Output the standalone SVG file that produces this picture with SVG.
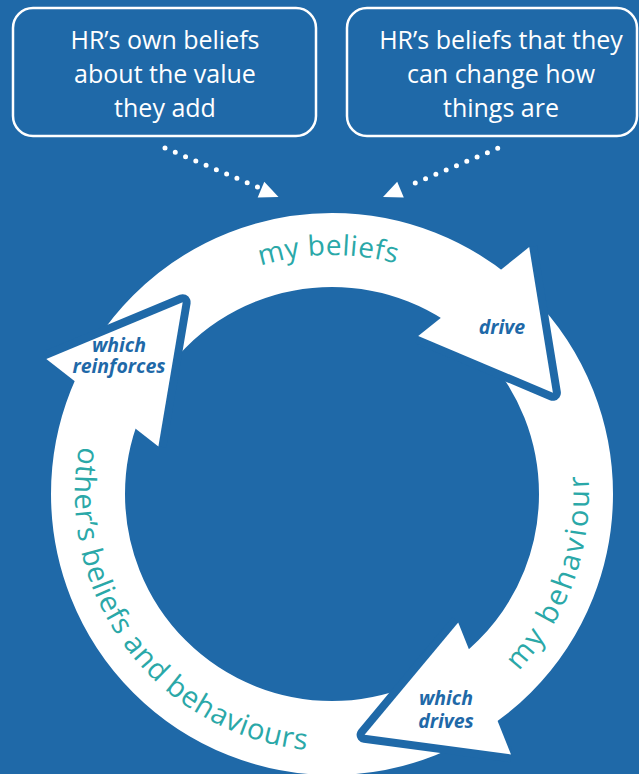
<svg xmlns="http://www.w3.org/2000/svg" width="639" height="774" viewBox="0 0 639 774">
  <style>
    .bg{fill:#1F69A8}
    .callout{fill:none;stroke:#fff;stroke-width:2.5}
    .callout-text{font-family:"Open Sans","Noto Sans",sans-serif;font-size:25px;fill:#fff;text-anchor:middle}
    .ring{fill:none;stroke:#fff;stroke-width:74}
    .head-edge{fill:none;stroke:#1F69A8;stroke-width:16;stroke-linejoin:round}
    .head{fill:#fff}
    .stage{font-family:"Open Sans","Noto Sans",sans-serif;font-size:28px;fill:#2AA8A8}
    .stage-lg{font-size:29px}
    .verb{font-family:"Open Sans","Noto Sans",sans-serif;font-size:19.5px;font-weight:bold;font-style:italic;fill:#1F69A8;text-anchor:middle}
    .dots{fill:none;stroke:#fff;stroke-width:5;stroke-linecap:round}
    .dot-head{fill:#fff}
  </style>
  <defs>
    <!-- baselines for the curved stage labels, centre (332,494) -->
    <path id="arc-beliefs" d="M125.0,374.5 A239,239 0 0 1 539.0,374.5"/>
    <path id="arc-behaviour" d="M376.6,747.1 A257,257 0 0 0 528.9,328.8"/>
    <path id="arc-others" d="M166.8,297.1 A257,257 0 0 0 460.5,716.6"/>
  </defs>

  <rect class="bg" x="0" y="0" width="639" height="774"/>

  <g id="callout-own-value">
    <rect class="callout" x="13" y="8" width="303" height="128" rx="20"/>
    <text class="callout-text" x="165" y="49">HR’s own beliefs</text>
    <text class="callout-text" x="165" y="83">about the value</text>
    <text class="callout-text" x="165" y="117">they add</text>
  </g>

  <g id="callout-can-change">
    <rect class="callout" x="347" y="8" width="290" height="128" rx="20"/>
    <text class="callout-text" x="501" y="49">HR’s beliefs that they</text>
    <text class="callout-text" x="501" y="83">can change how</text>
    <text class="callout-text" x="501" y="117">things are</text>
  </g>

  <g id="connectors">
    <path class="dots" d="M165,148 L257.5,187" stroke-dasharray="0 11.15"/>
    <polygon class="dot-head" points="278.5,197 264.3,181.8 257.7,197.4"/>
    <path class="dots" d="M497.7,148.3 L405,187.3" stroke-dasharray="0 11.18"/>
    <polygon class="dot-head" points="383,197 397.2,181.8 403.8,197.4"/>
  </g>

  <g id="cycle">
    <circle class="ring" cx="332" cy="494" r="244"/>

    <g id="my-beliefs">
      <text class="stage" letter-spacing="0.5"><textPath href="#arc-beliefs" startOffset="246.5" text-anchor="middle">my beliefs</textPath></text>
      <path class="head-edge" d="M529.2,247.1 L552.9,392.8 L418.2,336.0"/>
      <path class="head" d="M529.2,247.1 L552.9,392.8 L418.2,336.0 Z"/>
      <text class="verb" x="502" y="334">drive</text>
    </g>

    <g id="my-behaviour">
      <text class="stage stage-lg" letter-spacing="2.5"><textPath href="#arc-behaviour" startOffset="271.6" text-anchor="middle">my behaviour</textPath></text>
      <path class="head-edge" d="M511.0,754.4 L364.6,734.8 L458.2,622.4"/>
      <path class="head" d="M511.0,754.4 L364.6,734.8 L458.2,622.4 Z"/>
      <text class="verb" x="446" y="705">which</text>
      <text class="verb" x="446" y="728">drives</text>
    </g>

    <g id="others-beliefs">
      <text class="stage stage-lg" letter-spacing="0.7"><textPath href="#arc-others" startOffset="389.8" text-anchor="middle">other’s beliefs and behaviours</textPath></text>
      <path class="head-edge" d="M46.3,358.9 L182.7,302.2 L158.4,446.5"/>
      <path class="head" d="M46.3,358.9 L182.7,302.2 L158.4,446.5 Z"/>
      <text class="verb" x="119" y="352">which</text>
      <text class="verb" x="119" y="373">reinforces</text>
    </g>
  </g>
</svg>
